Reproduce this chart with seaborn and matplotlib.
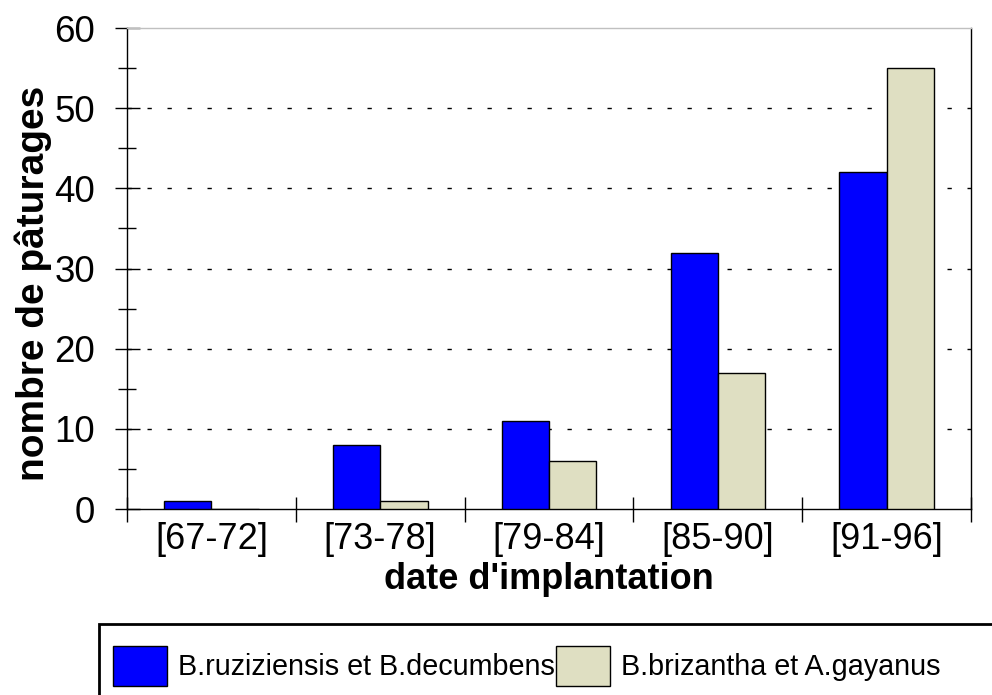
import numpy as np
import pandas as pd
import matplotlib
matplotlib.use("Agg")
import matplotlib.pyplot as plt
from matplotlib.patches import Rectangle
from matplotlib.ticker import MultipleLocator, FixedLocator
import seaborn as sns

# data
periods = ["[67-72]", "[73-78]", "[79-84]", "[85-90]", "[91-96]"]
ruzi_decumbens = [1, 8, 11, 32, 42]
brizantha_gayanus = [0, 1, 6, 17, 55]
series_names = ["B.ruziziensis et B.decumbens", "B.brizantha et A.gayanus"]
colors = ["#0000ff", "#dfdfc2"]

df = pd.DataFrame({
    "periode": periods * 2,
    "n": ruzi_decumbens + brizantha_gayanus,
    "espece": [series_names[0]] * 5 + [series_names[1]] * 5,
})

sns.set_style("white")
plt.rcParams["font.family"] = ["Liberation Sans", "DejaVu Sans"]
plt.rcParams.update({"text.color": "black", "axes.labelcolor": "black",
                     "xtick.color": "black", "ytick.color": "black"})

fig = plt.figure(figsize=(9.92, 6.95), dpi=100)
ax = fig.add_axes([0.128, 0.2676, 0.851, 0.692])

sns.barplot(data=df, x="periode", y="n", hue="espece", order=periods,
            hue_order=series_names, palette=colors, width=0.56,
            edgecolor="black", linewidth=1, saturation=1, ax=ax, zorder=3)
ax.get_legend().remove()

ax.set_ylim(0, 60)
ax.set_xlim(-0.5, 4.5)
ax.yaxis.set_major_locator(MultipleLocator(10))
ax.yaxis.set_minor_locator(MultipleLocator(5))
ax.xaxis.set_minor_locator(FixedLocator(np.arange(-0.5, 5, 1)))
ax.tick_params(axis="y", which="major", direction="inout", length=18, width=1,
               labelsize=26.5, pad=14, left=True)
ax.tick_params(axis="y", which="minor", direction="inout", length=13.5, width=1, left=True)
ax.tick_params(axis="x", which="major", length=0, labelsize=26, pad=9)
ax.tick_params(axis="x", which="minor", direction="inout", length=18, width=1, bottom=True)

for v in range(10, 60, 10):
    ax.axhline(v, color="black", lw=1, dashes=(3.1, 11.3), zorder=1)

for side in ["left", "bottom", "right"]:
    ax.spines[side].set_color("black")
    ax.spines[side].set_linewidth(1)
ax.spines["top"].set_color("#c0c0c0")
ax.spines["top"].set_linewidth(1)

ax.set_xlabel("date d'implantation", fontsize=26, fontweight="bold", labelpad=4)
ax.set_ylabel("nombre de pâturages", fontsize=28, fontweight="bold", labelpad=2, y=0.47)

# legend box running off the figure edge
fig.patches.append(Rectangle((99 / 992, -0.05), 0.95, (695 - 624) / 695 + 0.05,
                             transform=fig.transFigure, fill=False,
                             edgecolor="black", linewidth=2))
handles = [Rectangle((0, 0), 1, 1, facecolor=c, edgecolor="black", lw=1) for c in colors]
fig.legend(handles, series_names, loc="center left", bbox_to_anchor=(113 / 992, 1 - 666 / 695),
           ncol=2, frameon=False, fontsize=20.7, handlelength=1.88, handleheight=1.75,
           handletextpad=0.38, columnspacing=0.05, borderaxespad=0, borderpad=0)

fig.savefig("out.png", dpi=100)
